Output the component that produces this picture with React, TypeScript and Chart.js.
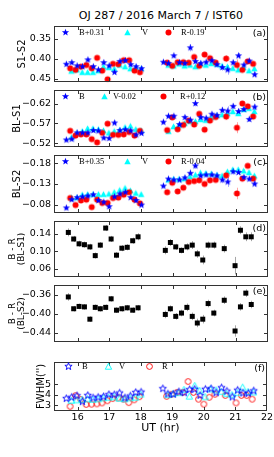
import React, { useEffect, useRef } from 'react';
import { Chart, registerables } from 'chart.js';
Chart.register(...registerables);

const FONT = '"DejaVu Sans", sans-serif';
const SERIF = '"Liberation Serif", "DejaVu Serif", serif';

// ---------- data ----------
const chartTitle = 'OJ 287 / 2016 March 7 / IST60';
const xTicks = [16, 17, 18, 19, 20, 21, 22];
const xTitle = 'UT (hr)';

const timesB = [15.64, 15.81, 15.98, 16.15, 16.32, 16.49, 16.65, 16.82, 16.99, 17.16, 17.33, 17.5, 17.67, 17.84, 18.01,
  18.7, 18.86, 19.03, 19.21, 19.38, 19.55, 19.71, 19.88, 20.05, 20.23, 20.39, 20.56, 20.73, 20.9, 21.07, 21.24, 21.41, 21.58];
const timesV = [15.8, 15.97, 16.14, 16.31, 16.48, 16.65, 16.81, 16.98, 17.15, 17.32, 17.49, 17.66, 17.83, 18.0,
  18.86, 19.02, 19.19, 19.37, 19.54, 19.71, 19.87, 20.04, 20.21, 20.39, 20.55, 20.72, 20.89, 21.06, 21.23, 21.4, 21.57];
const timesR = [15.76, 15.93, 16.1, 16.27, 16.44, 16.61, 16.77, 16.94, 17.11, 17.28, 17.45, 17.62, 17.79, 17.96,
  18.82, 18.98, 19.15, 19.33, 19.5, 19.67, 19.83, 20.0, 20.17, 20.35, 20.68, 21.02, 21.19, 21.36, 21.53];
const timesBR = [15.7, 15.87, 16.04, 16.21, 16.38, 16.55, 16.71, 16.88, 17.05, 17.22, 17.39, 17.56, 17.73, 17.9,
  18.76, 18.92, 19.09, 19.27, 19.44, 19.61, 19.77, 19.94, 20.11, 20.29, 20.62, 20.96, 21.13, 21.3, 21.47];

// (a) S1-S2
const s1s2B = [0.414, 0.41, 0.418, 0.42, 0.403, 0.42, 0.428, 0.41, 0.418, 0.434, 0.407, 0.405, 0.415, 0.42, 0.425,
  0.409, 0.412, 0.393, 0.41, 0.412, 0.373, 0.407, 0.412, 0.409, 0.405, 0.415, 0.422, 0.428, 0.41, 0.393, 0.416, 0.406, 0.44];
const s1s2V = [0.431, 0.428, 0.434, 0.434, 0.434, 0.43, 0.42, 0.422, 0.425, 0.416, 0.42, 0.425, 0.422, 0.425,
  0.416, 0.418, 0.413, 0.418, 0.416, 0.42, 0.413, 0.416, 0.412, 0.414, 0.418, 0.42, 0.424, 0.428, 0.422, 0.43, 0.425];
const s1s2R = [0.424, 0.428, 0.42, 0.416, 0.424, 0.398, 0.43, 0.4515, 0.413, 0.414, 0.404, 0.404, 0.43, 0.434,
  0.41, 0.418, 0.409, 0.409, 0.41, 0.396, 0.418, 0.39, 0.399, 0.41, 0.4, 0.416, 0.428, 0.407, 0.413];

// (b) BL-S1
const bls1B = [-0.528, -0.53, -0.546, -0.546, -0.546, -0.552, -0.551, -0.533, -0.532, -0.571, -0.552, -0.554, -0.551, -0.541, -0.545,
  -0.573, -0.588, -0.588, -0.567, -0.585, -0.578, -0.62, -0.585, -0.583, -0.593, -0.59, -0.603, -0.601, -0.613, -0.6, -0.605, -0.58, -0.611];
const bls1V = [-0.535, -0.546, -0.55, -0.557, -0.557, -0.555, -0.552, -0.546, -0.55, -0.553, -0.56, -0.563, -0.555, -0.552,
  -0.55, -0.562, -0.565, -0.57, -0.575, -0.575, -0.58, -0.578, -0.585, -0.59, -0.592, -0.595, -0.6, -0.595, -0.605, -0.608, -0.6];
const bls1R = [-0.551, -0.539, -0.542, -0.542, -0.53, -0.522, -0.546, -0.569, -0.541, -0.541, -0.542, -0.548, -0.539, -0.551,
  -0.553, -0.585, -0.555, -0.566, -0.577, -0.567, -0.594, -0.554, -0.577, -0.586, -0.587, -0.559, -0.62, -0.613, -0.587];

// (c) BL-S2
const bls2B = [-0.072, -0.092, -0.097, -0.099, -0.101, -0.104, -0.09, -0.086, -0.075, -0.099, -0.106, -0.11, -0.097, -0.09, -0.079,
  -0.125, -0.142, -0.14, -0.14, -0.145, -0.156, -0.174, -0.15, -0.152, -0.152, -0.15, -0.14, -0.135, -0.16, -0.158, -0.146, -0.142, -0.13];
const bls2V = [-0.097, -0.097, -0.104, -0.105, -0.105, -0.105, -0.105, -0.106, -0.11, -0.115, -0.12, -0.114, -0.108, -0.105,
  -0.14, -0.142, -0.142, -0.143, -0.148, -0.152, -0.157, -0.156, -0.155, -0.152, -0.15, -0.16, -0.165, -0.165, -0.162, -0.158, -0.15];
const bls2R = [-0.096, -0.079, -0.09, -0.092, -0.074, -0.092, -0.084, -0.084, -0.096, -0.097, -0.104, -0.11, -0.092, -0.083,
  -0.11, -0.133, -0.112, -0.121, -0.135, -0.137, -0.139, -0.13, -0.139, -0.14, -0.151, -0.107, -0.143, -0.174, -0.143];

// (d) B - R (BL-S1), (e) B - R (BL-S2)
const brS1 = [0.143, 0.128, 0.117, 0.115, 0.11, 0.09, 0.114, 0.153, 0.128, 0.091, 0.107, 0.109, 0.124, 0.133,
  0.102, 0.12, 0.11, 0.102, 0.11, 0.114, 0.094, 0.08, 0.114, 0.114, 0.106, 0.067, 0.148, 0.133, 0.133];
const brS2 = [-0.364, -0.389, -0.384, -0.385, -0.411, -0.386, -0.389, -0.386, -0.368, -0.392, -0.389, -0.387, -0.392, -0.387,
  -0.401, -0.389, -0.405, -0.398, -0.386, -0.405, -0.419, -0.411, -0.378, -0.398, -0.371, -0.436, -0.385, -0.356, -0.38];

// (f) FWHM
const fwhmB = [3.63, 3.75, 3.9, 3.33, 3.93, 3.69, 3.75, 3.81, 4.01, 3.99, 4.16, 3.7, 3.87, 4.22, 4.25,
  4.58, 4.07, 4.04, 4.28, 4.19, 4.49, 4.52, 3.93, 4.52, 4.58, 4.19, 4.67, 4.34, 3.78, 4.43, 4.16, 4.13, 4.37];
const fwhmV = [3.45, 3.5, 3.55, 3.6, 3.55, 3.6, 3.7, 3.75, 3.8, 3.65, 3.6, 3.7, 3.75, 4.05,
  4.0, 4.1, 4.2, 4.5, 3.85, 4.88, 4.4, 3.8, 4.55, 4.45, 4.3, 4.1, 4.0, 4.2, 4.73, 4.3, 4.25];
const fwhmR = [2.88, 3.9, 3.54, 3.06, 3.09, 3.12, 3.21, 3.42, 3.63, 3.69, 3.57, 3.24, 3.51, 3.81,
  3.84, 4.04, 4.22, 4.22, 5.27, 4.22, 3.57, 3.09, 3.75, 4.04, 3.93, 3.21, 3.93, 3.93, 3.57];

// error bars (mag)
const errB = [0.006, 0.005, 0.005, 0.005, 0.005, 0.005, 0.006, 0.005, 0.005, 0.006, 0.005, 0.005, 0.005, 0.006, 0.006,
  0.006, 0.005, 0.005, 0.006, 0.006, 0.009, 0.007, 0.006, 0.006, 0.006, 0.007, 0.008, 0.012, 0.007, 0.007, 0.006, 0.006, 0.007];
const errV = [0.003, 0.003, 0.003, 0.003, 0.003, 0.003, 0.003, 0.003, 0.003, 0.003, 0.003, 0.003, 0.003, 0.003,
  0.003, 0.003, 0.003, 0.003, 0.003, 0.003, 0.003, 0.003, 0.003, 0.003, 0.004, 0.004, 0.004, 0.004, 0.004, 0.004, 0.004];
const errR = [0.004, 0.004, 0.004, 0.004, 0.004, 0.004, 0.004, 0.004, 0.004, 0.004, 0.004, 0.004, 0.004, 0.004,
  0.004, 0.004, 0.004, 0.004, 0.004, 0.005, 0.005, 0.005, 0.005, 0.005, 0.008, 0.014, 0.006, 0.005, 0.005];
const errBRd = [0.009, 0.007, 0.007, 0.007, 0.007, 0.007, 0.007, 0.007, 0.007, 0.007, 0.007, 0.007, 0.007, 0.008,
  0.009, 0.008, 0.007, 0.007, 0.008, 0.009, 0.009, 0.01, 0.008, 0.008, 0.009, 0.02, 0.009, 0.01, 0.01];
const errBRe = [0.008, 0.006, 0.006, 0.006, 0.006, 0.006, 0.006, 0.006, 0.006, 0.006, 0.006, 0.006, 0.006, 0.006,
  0.008, 0.007, 0.007, 0.007, 0.008, 0.008, 0.009, 0.009, 0.008, 0.007, 0.008, 0.012, 0.008, 0.008, 0.008];

const yTicksA = [0.35, 0.4, 0.45];
const yTicksB = [-0.62, -0.57, -0.52];
const yTicksC = [-0.18, -0.13, -0.08];
const yTicksD = [0.14, 0.1, 0.06];
const yTicksE = [-0.36, -0.4, -0.44];
const yTicksF = [3, 4, 5];

// ---------- styling ----------
const X_MIN = 15.25;
const X_MAX = 22;
const PAD = 5;
const BLUE = '#0000ff';
const CYAN = '#00ffff';
const RED = '#ff0000';

type Kind = 'starF' | 'triF' | 'circF' | 'starO' | 'triO' | 'circO' | 'sq';

function makeMarker(kind: Kind): HTMLCanvasElement {
  const s = 11;
  const c = document.createElement('canvas');
  c.width = s; c.height = s;
  const g = c.getContext('2d')!;
  const cx = s / 2, cy = s / 2;
  g.beginPath();
  if (kind === 'starF' || kind === 'starO') {
    const r = kind === 'starF' ? 3.8 : 3.8;
    for (let k = 0; k < 10; k++) {
      const a = -Math.PI / 2 + (k * Math.PI) / 5;
      const rr = k % 2 === 0 ? r : r * 0.42;
      const px = cx + rr * Math.cos(a), py = cy + rr * Math.sin(a);
      if (k === 0) g.moveTo(px, py); else g.lineTo(px, py);
    }
    g.closePath();
  } else if (kind === 'triF' || kind === 'triO') {
    const r = 3.2;
    g.moveTo(cx, cy - r); g.lineTo(cx + r, cy + r * 0.85); g.lineTo(cx - r, cy + r * 0.85); g.closePath();
  } else if (kind === 'sq') {
    g.rect(cx - 2.5, cy - 2.5, 5, 5);
  } else {
    g.arc(cx, cy, kind === 'circF' ? 3.0 : 2.9, 0, Math.PI * 2);
  }
  if (kind === 'starF') { g.fillStyle = BLUE; g.fill(); }
  if (kind === 'triF') { g.fillStyle = CYAN; g.fill(); }
  if (kind === 'circF') { g.fillStyle = RED; g.fill(); }
  if (kind === 'sq') { g.fillStyle = '#000'; g.fill(); }
  if (kind === 'starO') { g.strokeStyle = BLUE; g.lineWidth = 0.9; g.stroke(); }
  if (kind === 'triO') { g.strokeStyle = CYAN; g.lineWidth = 0.9; g.stroke(); }
  if (kind === 'circO') { g.strokeStyle = RED; g.lineWidth = 0.9; g.stroke(); }
  return c;
}

type Series = { xs: number[]; ys: number[]; errs?: number[]; kind: Kind; errColor?: string; order: number };
type LegendItem = { kind: Kind; mx: number; text: string; tx: number };
type PanelDef = {
  top: number; height: number; yMin: number; yMax: number; reverse: boolean; yTicks: number[]; dec: number;
  yTitle: string | string[]; titlePad: number; titleLH: number; titleSize: number; label: string; labelDy: number;
  legend: LegendItem[]; legendDy: number; series: Series[]; xAxis?: boolean;
};

const fmt = (v: number, dec: number) => (v < 0 ? '\u2212' : '') + Math.abs(v).toFixed(dec);

const decorPlugin = {
  id: 'decor',
  beforeDatasetsDraw(chart: any) {
    const { ctx, chartArea: a, scales } = chart;
    const x = scales.x, y = scales.y;
    ctx.save();
    ctx.beginPath();
    ctx.rect(a.left, a.top, a.right - a.left, a.bottom - a.top);
    ctx.clip();
    ctx.lineWidth = 1;
    for (const ds of chart.data.datasets as any[]) {
      if (!ds.errors) continue;
      ctx.strokeStyle = ds.errColor;
      ds.data.forEach((p: any, i: number) => {
        const e = ds.errors[i];
        const px = Math.round(x.getPixelForValue(p.x)) + 0.5;
        ctx.beginPath();
        ctx.moveTo(px, y.getPixelForValue(p.y - e));
        ctx.lineTo(px, y.getPixelForValue(p.y + e));
        ctx.stroke();
      });
    }
    ctx.restore();
  },
  afterDraw(chart: any, _args: any, opts: any) {
    const { ctx, chartArea: a, scales } = chart;
    const x = scales.x, y = scales.y;
    const L = Math.round(a.left) + 0.5, R = Math.round(a.right) - 0.5;
    const T = Math.round(a.top) + 0.5, B = Math.round(a.bottom) - 0.5;
    ctx.save();
    ctx.strokeStyle = '#333';
    ctx.lineWidth = 1;
    ctx.strokeRect(L, T, R - L, B - T);
    const tl = 3.5;
    ctx.beginPath();
    for (const v of xTicks) {
      const px = Math.round(x.getPixelForValue(v)) + 0.5;
      if (px < L || px > R + 0.6) continue;
      ctx.moveTo(px, B); ctx.lineTo(px, B - tl);
      ctx.moveTo(px, T); ctx.lineTo(px, T + tl);
    }
    for (const v of opts.yTicks as number[]) {
      const py = Math.round(y.getPixelForValue(v)) + 0.5;
      ctx.moveTo(L, py); ctx.lineTo(L + tl, py);
      ctx.moveTo(R, py); ctx.lineTo(R - tl, py);
    }
    ctx.stroke();
    // legend
    const ly = a.top + opts.legendDy;
    for (const it of opts.legend as any[]) {
      const m = it.img as HTMLCanvasElement;
      ctx.drawImage(m, Math.round(it.mx - m.width / 2), Math.round(ly - m.height / 2));
      ctx.fillStyle = '#000';
      ctx.font = `8.5px ${SERIF}`;
      ctx.textAlign = 'left';
      ctx.textBaseline = 'middle';
      ctx.fillText(it.text, it.tx, ly + 0.5);
    }
    // panel label
    ctx.fillStyle = '#000';
    ctx.font = `9.5px ${FONT}`;
    ctx.textAlign = 'right';
    ctx.textBaseline = 'middle';
    ctx.fillText(opts.label, a.right - 2, a.top + opts.labelDy);
    ctx.restore();
  },
};

function Panel({ def }: { def: PanelDef }) {
  const ref = useRef<HTMLCanvasElement>(null);
  const bottomExtra = def.xAxis ? 30 : PAD;
  const h = def.height + PAD + bottomExtra;
  useEffect(() => {
    const imgs: Record<string, HTMLCanvasElement> = {};
    const img = (k: Kind) => (imgs[k] = imgs[k] || makeMarker(k));
    const datasets = def.series.map((s) => ({
      data: s.xs.map((xv, i) => ({ x: xv, y: s.ys[i] })),
      pointStyle: img(s.kind),
      pointRadius: 3,
      showLine: false,
      order: s.order,
      errors: s.errs,
      errColor: s.errColor,
    }));
    const xScale: any = {
      type: 'linear',
      min: X_MIN,
      max: X_MAX,
      display: !!def.xAxis,
      grid: { display: false, drawTicks: false },
      border: { display: false },
      afterBuildTicks: (s: any) => { s.ticks = xTicks.map((v) => ({ value: v })); },
      ticks: { color: '#000', padding: 1, font: { family: FONT, size: 9.5 }, callback: (v: any) => String(v) },
      title: { display: true, text: xTitle, color: '#000', font: { family: FONT, size: 11 }, padding: { top: 0, bottom: 6 } },
    };
    if (def.xAxis) xScale.afterFit = (s: any) => { s.height = 30; };
    const chart = new Chart(ref.current!, {
      type: 'scatter',
      data: { datasets } as any,
      options: {
        animation: false,
        responsive: false,
        maintainAspectRatio: false,
        events: [],
        layout: { padding: { top: PAD, bottom: def.xAxis ? 0 : PAD, left: 0, right: 6 } },
        plugins: {
          legend: { display: false },
          tooltip: { enabled: false },
          decor: {
            yTicks: def.yTicks,
            legend: def.legend.map((l) => ({ ...l, img: img(l.kind) })),
            legendDy: def.legendDy,
            label: def.label,
            labelDy: def.labelDy,
          },
        } as any,
        scales: {
          x: xScale,
          y: {
            type: 'linear',
            min: def.yMin,
            max: def.yMax,
            reverse: def.reverse,
            grid: { display: false, drawTicks: false },
            border: { display: false },
            afterBuildTicks: (s: any) => { s.ticks = def.yTicks.map((v) => ({ value: v })); },
            afterFit: (s: any) => { s.width = 54; },
            ticks: { color: '#000', padding: 3, font: { family: FONT, size: 9.5 }, callback: (v: any) => fmt(Number(v), def.dec) },
            title: {
              display: true,
              text: def.yTitle,
              color: '#000',
              font: { family: FONT, size: def.titleSize, lineHeight: def.titleLH },
              padding: { top: def.titlePad, bottom: 0 },
            },
          },
        },
      } as any,
      plugins: [decorPlugin as any],
    });
    return () => chart.destroy();
  }, []);
  return (
    <canvas
      ref={ref}
      width={274}
      height={h}
      style={{ position: 'absolute', left: 0, top: def.top - PAD, width: 274, height: h, display: 'block' }}
    />
  );
}

const bvrSeries = (b: number[], v: number[], r: number[]): Series[] => [
  { xs: timesB, ys: b, errs: errB, kind: 'starF', errColor: 'rgba(0,0,255,0.35)', order: 0 },
  { xs: timesR, ys: r, errs: errR, kind: 'circF', errColor: 'rgba(255,0,0,0.35)', order: 1 },
  { xs: timesV, ys: v, errs: errV, kind: 'triF', errColor: 'rgba(0,200,200,0.4)', order: 2 },
];

const panels: PanelDef[] = [
  {
    top: 22, height: 64, yMin: 0.318, yMax: 0.459, reverse: true, yTicks: yTicksA, dec: 2,
    yTitle: 'S1-S2', titlePad: 16, titleLH: 1.2, titleSize: 10, label: '(a)', labelDy: 8,
    legend: [
      { kind: 'starF', mx: 65, text: 'B+0.31', tx: 79 },
      { kind: 'triF', mx: 127, text: 'V', tx: 142 },
      { kind: 'circF', mx: 168, text: 'R-0.19', tx: 181 },
    ],
    legendDy: 7, series: bvrSeries(s1s2B, s1s2V, s1s2R),
  },
  {
    top: 86, height: 65, yMin: -0.655, yMax: -0.5095, reverse: true, yTicks: yTicksB, dec: 2,
    yTitle: 'BL-S1', titlePad: 11, titleLH: 1.2, titleSize: 10, label: '(b)', labelDy: 8,
    legend: [
      { kind: 'starF', mx: 65, text: 'B', tx: 79 },
      { kind: 'triF', mx: 104, text: 'V-0.02', tx: 113 },
      { kind: 'circF', mx: 163, text: 'R+0.12', tx: 180 },
    ],
    legendDy: 7, series: bvrSeries(bls1B, bls1V, bls1R),
  },
  {
    top: 151, height: 66, yMin: -0.2011, yMax: -0.0589, reverse: true, yTicks: yTicksC, dec: 2,
    yTitle: 'BL-S2', titlePad: 11, titleLH: 1.2, titleSize: 10, label: '(c)', labelDy: 8,
    legend: [
      { kind: 'starF', mx: 65, text: 'B+0.35', tx: 79 },
      { kind: 'triF', mx: 127, text: 'V', tx: 142 },
      { kind: 'circF', mx: 168, text: 'R-0.04', tx: 181 },
    ],
    legendDy: 7, series: bvrSeries(bls2B, bls2V, bls2R),
  },
  {
    top: 217, height: 64, yMin: 0.0404, yMax: 0.1697, reverse: false, yTicks: yTicksD, dec: 2,
    yTitle: ['B - R', '(BL-S1)'], titlePad: 8, titleLH: 1.0, titleSize: 9, label: '(d)', labelDy: 8,
    legend: [], legendDy: 7,
    series: [{ xs: timesBR, ys: brS1, errs: errBRd, kind: 'sq', errColor: 'rgba(0,0,0,0.35)', order: 0 }],
  },
  {
    top: 281, height: 65, yMin: -0.4599, yMax: -0.3382, reverse: false, yTicks: yTicksE, dec: 2,
    yTitle: ['B - R', '(BL-S2)'], titlePad: 8, titleLH: 1.0, titleSize: 9, label: '(e)', labelDy: 7,
    legend: [], legendDy: 7,
    series: [{ xs: timesBR, ys: brS2, errs: errBRe, kind: 'sq', errColor: 'rgba(0,0,0,0.35)', order: 0 }],
  },
  {
    top: 358, height: 53, yMin: 2.43, yMax: 7.18, reverse: false, yTicks: yTicksF, dec: 0,
    yTitle: "FWHM('')", titlePad: 35, titleLH: 1.2, titleSize: 10, label: '(f)', labelDy: 6.5,
    legend: [
      { kind: 'starO', mx: 68, text: 'B', tx: 82 },
      { kind: 'triO', mx: 108, text: 'V', tx: 119 },
      { kind: 'circO', mx: 149, text: 'R', tx: 162 },
    ],
    legendDy: 5, xAxis: true,
    series: [
      { xs: timesB, ys: fwhmB, kind: 'starO', order: 0 },
      { xs: timesV, ys: fwhmV, kind: 'triO', order: 1 },
      { xs: timesR, ys: fwhmR, kind: 'circO', order: 2 },
    ],
  },
];

export default function App() {
  return (
    <div style={{ position: 'fixed', left: 0, top: 0, width: 274, height: 457, background: '#fff', overflow: 'hidden' }}>
      <div
        style={{
          position: 'absolute', left: 54, top: 9, width: 214, textAlign: 'center',
          fontFamily: FONT, fontSize: 11, lineHeight: '13px', color: '#000', whiteSpace: 'nowrap',
        }}
      >
        {chartTitle}
      </div>
      {panels.map((p, i) => (
        <Panel key={i} def={p} />
      ))}
    </div>
  );
}
